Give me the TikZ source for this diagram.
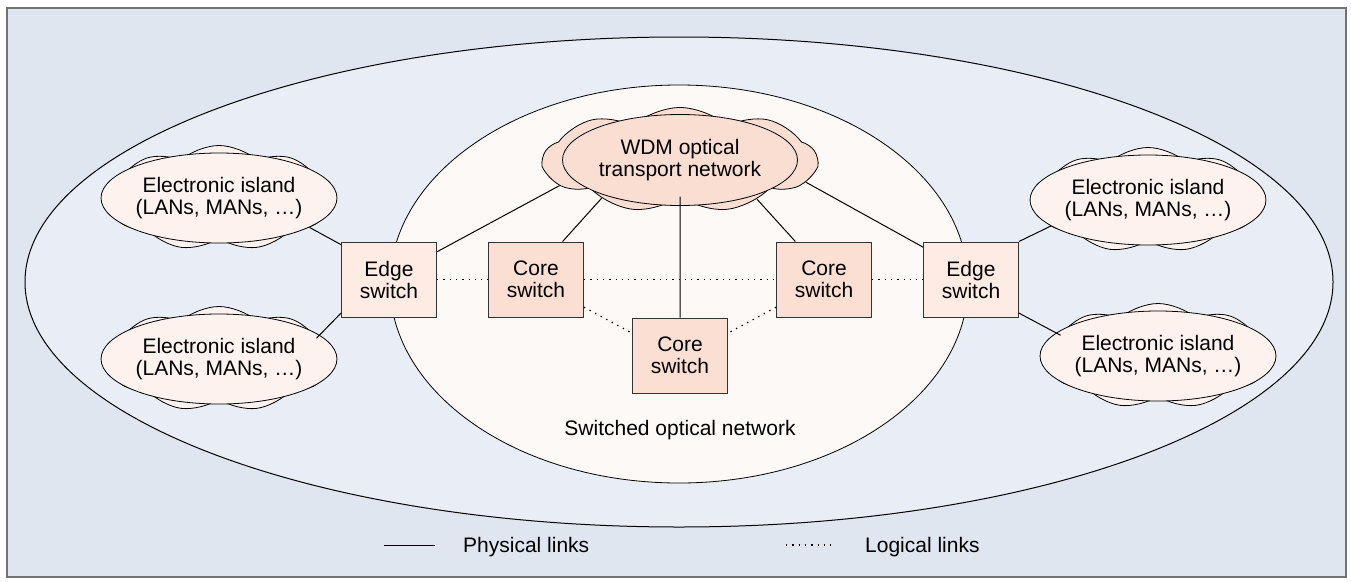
\documentclass[tikz,border=0pt]{standalone}
\usepackage{fontspec}
\setmainfont{Liberation Sans}
\usepackage{tikz}
\usetikzlibrary{shapes.geometric, shapes.symbols, positioning}

\definecolor{framebg}{HTML}{DFE6F0}
\definecolor{outerbg}{HTML}{E9EEF6}
\definecolor{innerbg}{HTML}{FDF9F7}
\definecolor{wdmfill}{HTML}{FBDED2}
\definecolor{corefill}{HTML}{FBDFD3}
\definecolor{edgefill}{HTML}{FDEBE4}
\definecolor{islfill}{HTML}{FDF2EE}

\begin{document}
\begin{tikzpicture}[
  x=1pt, y=-1pt,
  font=\fontsize{21}{22}\selectfont,
  ln/.style={line width=1pt},
  lg/.style={line width=1.3pt, dash pattern=on 1.3pt off 5pt},
  sw/.style={draw=black!80, line width=1pt, align=center, inner sep=2pt,
             minimum width=95pt, minimum height=75pt},
  coresw/.style={sw, fill=corefill},
  edgesw/.style={sw, fill=edgefill},
  puff/.style={cloud, cloud puffs=9, cloud puff arc=85, cloud ignores aspect,
               draw, line width=0.8pt},
  island/.style={puff, fill=islfill, minimum width=222pt, minimum height=105pt},
  isltxt/.style={ellipse, draw, line width=0.8pt, fill=islfill, align=center,
                 inner sep=0pt, minimum width=206pt, minimum height=90pt}
]
\useasboundingbox (0,0) rectangle (1351,581);
\draw[draw=black!55, line width=2pt, fill=framebg] (7,8) rectangle (1346,577);
% nested networks
\node[ellipse, draw, ln, fill=outerbg, minimum width=1308pt, minimum height=490pt]
     (outer) at (679,282) {};
\node[ellipse, draw, line width=0.8pt, fill=innerbg, minimum width=578pt, minimum height=398pt]
     (inner) at (679,284) {};
\node (inlbl) at (680,430) {Switched optical network};
% optical transport core
\node[puff, fill=wdmfill, minimum width=273pt, minimum height=105pt] (wdm) at (680,160) {};
\node[ellipse, draw, line width=0.8pt, fill=wdmfill, align=center, inner sep=0pt,
      minimum width=235pt, minimum height=91pt] (wdm-t) at (wdm) {WDM optical\\transport network};
% switches
\node[coresw] (ccore) at (680,355.5) {Core\\switch};
\node[coresw] (lcore) at (536,279.5) {Core\\switch};
\node[coresw] (rcore) at (824,279.5) {Core\\switch};
\node[edgesw, left=51pt of lcore]  (ledge) {Edge\\switch};
\node[edgesw, right=51pt of rcore] (redge) {Edge\\switch};
% electronic islands
\node[island] (isl-tl) at (219,198) {};
\node[isltxt] (isl-tl-t) at (isl-tl) {Electronic island\\(LANs, MANs, \dots)};
\node[island] (isl-bl) at (219,359) {};
\node[isltxt] (isl-bl-t) at (isl-bl) {Electronic island\\(LANs, MANs, \dots)};
\node[island] (isl-tr) at (1148,200) {};
\node[isltxt] (isl-tr-t) at (isl-tr) {Electronic island\\(LANs, MANs, \dots)};
\node[island] (isl-br) at (1158,356) {};
\node[isltxt] (isl-br-t) at (isl-br) {Electronic island\\(LANs, MANs, \dots)};
% physical links
\draw[ln] (isl-tl.-18) -- (ledge.144);
\draw[ln] (isl-bl.12) -- (ledge.215);
\draw[ln] (redge.north east) -- (isl-tr.195);
\draw[ln] (redge.-35) -- (isl-br.168);
\draw[ln] (ledge.30) -- (wdm.192);
\draw[ln] (lcore.55) -- (wdm.206);
\draw[ln] (rcore.127) -- (wdm.333);
\draw[ln] (redge.146) -- (wdm.350);
\draw[ln] (wdm.south) -- (ccore.north);
% logical links
\draw[lg] (ledge.east) -- (lcore.west);
\draw[lg] (lcore.east) -- (rcore.west);
\draw[lg] (rcore.east) -- (redge.west);
\draw[lg] (lcore.-30) -- (ccore.155);
\draw[lg] (rcore.210) -- (ccore.25);
% legend
\coordinate (phys-a) at (384,545);
\coordinate (phys-b) at (435,545);
\coordinate (log-a) at (786,545);
\coordinate (log-b) at (836,545);
\draw[ln] (phys-a) -- (phys-b);
\draw[lg] (log-a) -- (log-b);
\node[anchor=west, inner sep=0pt] (physlbl) at (463,547) {Physical links};
\node[anchor=west, inner sep=0pt] (loglbl) at (865,547) {Logical links};
\end{tikzpicture}
\end{document}
